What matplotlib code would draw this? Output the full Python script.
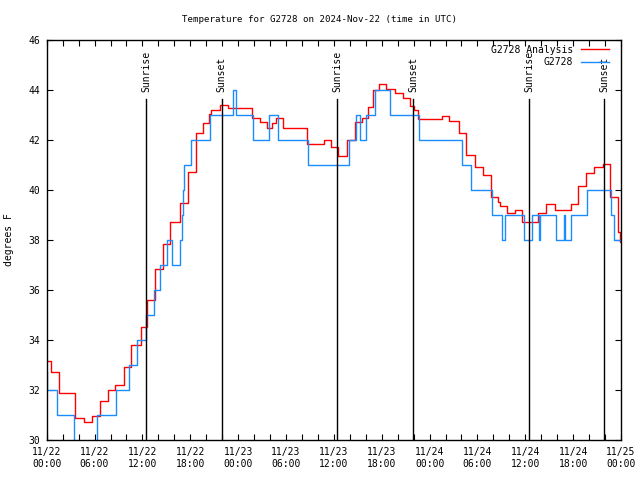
import matplotlib
matplotlib.use("Agg")
import matplotlib.pyplot as plt

# hours since 2024-11-22 00:00 UTC
obs_hours = [0, 0.1, 1.29, 3.42, 6.31, 8.63, 10.38, 11.32, 12.39, 13.39, 14.17,
             15.12, 15.65, 16.71, 16.9, 17.03, 17.21, 18.15, 20.47, 23.36, 23.67,
             25.87, 27.87, 28.94, 32.7, 37.96, 38.78, 39.28, 39.97, 41.1, 43.1,
             46.62, 52.07, 53.2, 55.77, 57.02, 57.4, 59.78, 60.85, 61.72, 61.89,
             63.86, 64.86, 65.02, 65.67, 67.74, 70.75, 71.13, 72.0]
obs_temp = [32.7, 32, 31, 29, 31, 32, 33, 34, 35, 36, 37,
            38, 37, 38, 39, 40, 41, 42, 43, 44, 43,
            42, 43, 42, 41, 42, 43, 42, 43, 44, 43,
            42, 41, 40, 39, 38, 39, 38, 39, 38, 39,
            38, 39, 38, 39, 40, 39, 38, 38]

ana_hours = [0, 0.54, 1.6, 3.61, 4.68, 5.62, 6.68, 7.69, 8.6, 9.63, 10.63,
             11.76, 12.58, 13.58, 14.58, 15.52, 16.71, 17.72, 18.72, 19.6, 20.41,
             20.6, 21.67, 22.67, 25.74, 26.71, 27.68, 28.25, 28.75, 29.63, 32.64,
             34.77, 35.64, 36.58, 37.59, 38.59, 39.53, 40.28, 40.97, 41.6, 42.48,
             43.67, 44.61, 45.55, 46.11, 46.55, 49.62, 50.44, 51.69, 52.63, 53.7,
             54.7, 55.64, 56.58, 56.83, 57.65, 58.65, 59.65, 61.6, 62.6, 63.73,
             65.67, 66.67, 67.61, 68.62, 69.75, 70.63, 71.57, 71.82, 72.0]
ana_temp = [33.16, 32.7, 31.87, 30.87, 30.73, 30.97, 31.56, 32.0, 32.2, 32.9, 33.8,
            34.53, 35.6, 36.83, 37.84, 38.7, 39.47, 40.7, 42.3, 42.67, 43.05,
            43.2, 43.4, 43.27, 42.87, 42.73, 42.47, 42.67, 42.87, 42.47, 41.83,
            42.0, 41.73, 41.36, 42.0, 42.73, 42.87, 43.33, 44.0, 44.24, 44.03,
            43.87, 43.69, 43.36, 43.2, 42.83, 42.98, 42.76, 42.3, 41.4, 40.9,
            40.6, 39.73, 39.53, 39.36, 39.09, 39.2, 38.7, 39.07, 39.44, 39.2,
            39.44, 40.16, 40.67, 40.9, 41.04, 39.73, 38.33, 37.9, 37.9]

sun_hours = [12.49, 21.94, 36.43, 45.96, 60.51, 69.92]
sun_labels = ["Sunrise", "Sunset", "Sunrise", "Sunset", "Sunrise", "Sunset"]

tick_labels = ["11/22\n00:00", "11/22\n06:00", "11/22\n12:00", "11/22\n18:00",
               "11/23\n00:00", "11/23\n06:00", "11/23\n12:00", "11/23\n18:00",
               "11/24\n00:00", "11/24\n06:00", "11/24\n12:00", "11/24\n18:00",
               "11/25\n00:00"]

FONT = "DejaVu Sans Mono"
plt.rcParams["font.family"] = FONT
plt.rcParams["font.size"] = 7

fig = plt.figure(figsize=(6.4, 4.8), dpi=100)
ax = fig.add_axes([46.7 / 640, 40 / 480, (621 - 46.7) / 640, 400 / 480])

ax.plot(ana_hours, ana_temp, drawstyle="steps-post", color="#ff0000", lw=1.0,
        label="G2728 Analysis")
ax.plot(obs_hours, obs_temp, drawstyle="steps-post", color="#1a8cff", lw=1.0,
        label="G2728")

for h, lab in zip(sun_hours, sun_labels):
    ax.plot([h, h], [30, 43.64], color="black", lw=1.0)
    ax.text(h, 43.9, lab, rotation=90, ha="center", va="bottom", fontsize=7)

ax.set_xlim(0, 72)
ax.set_ylim(30, 46)

xt = list(range(0, 73, 2))
ax.set_xticks(xt)
ax.set_xticklabels([tick_labels[t // 6] if t % 6 == 0 else "" for t in xt])
ax.set_yticks(range(30, 47, 2))
ax.tick_params(direction="in", length=4, width=0.8, top=True, right=True,
               labelsize=7, pad=5, colors="black")
for s in ax.spines.values():
    s.set_linewidth(1.0)

ax.set_ylabel("degrees F", fontsize=7, labelpad=10)
fig.text(0.5, 1 - 19 / 480, "Temperature for G2728 on 2024-Nov-22 (time in UTC)",
         fontsize=6.6, ha="center", va="center")

ax.legend(loc="upper right", bbox_to_anchor=(0.986, 0.998), frameon=False,
          markerfirst=False, fontsize=7, handlelength=2.9, handletextpad=0.8,
          borderaxespad=0, labelspacing=0.25)

fig.savefig("out.png", dpi=100)
